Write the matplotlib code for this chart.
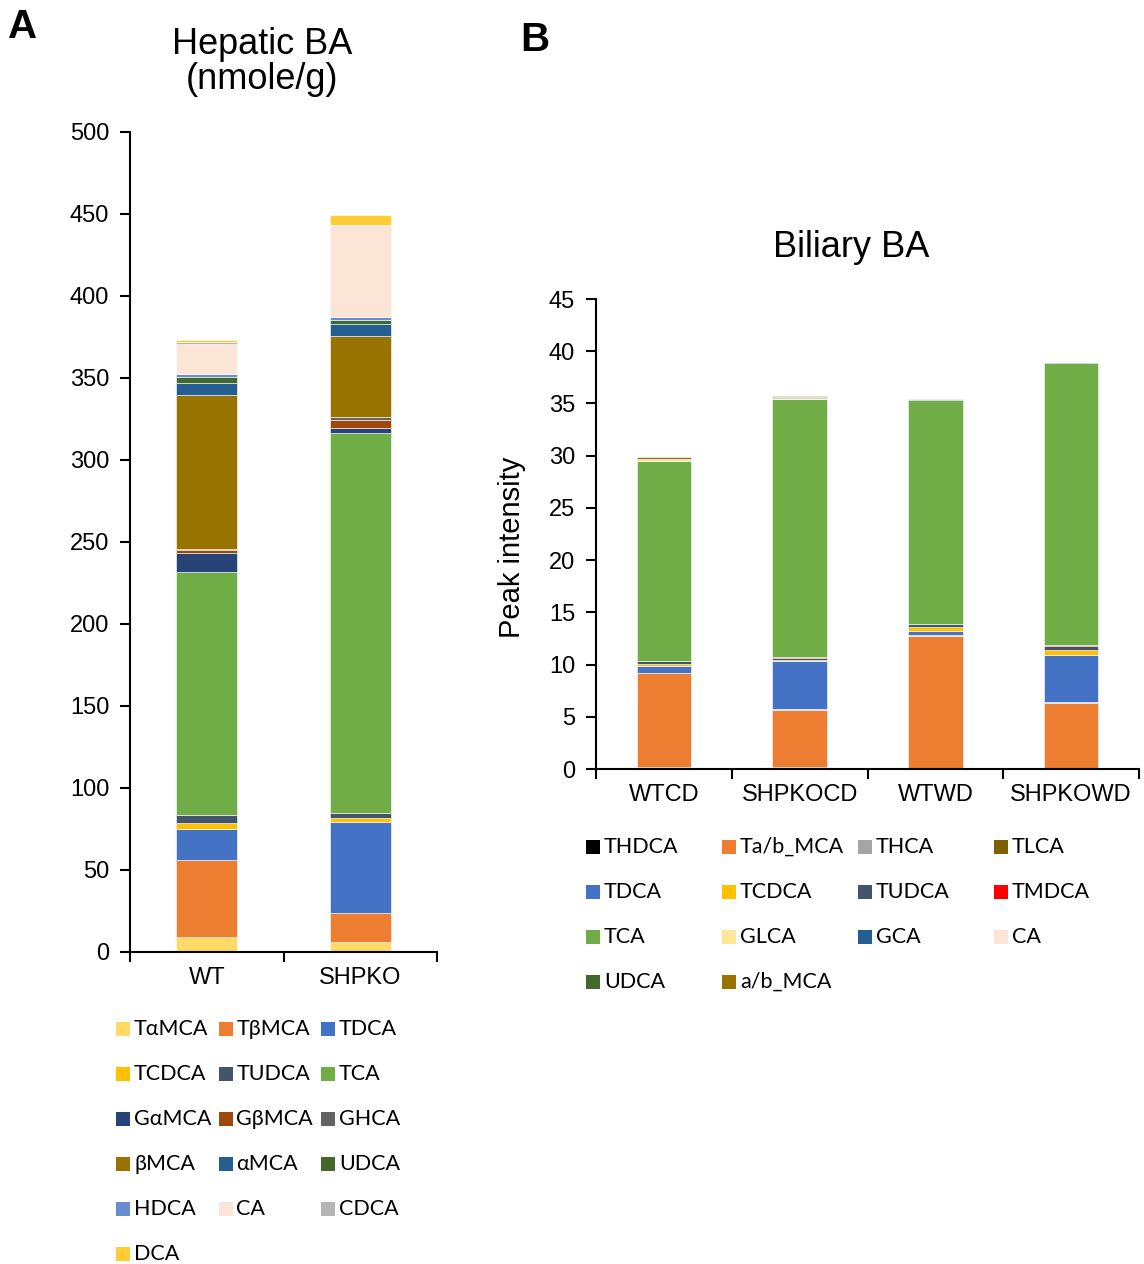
import matplotlib
matplotlib.use("Agg")
import matplotlib.pyplot as plt
from matplotlib.patches import Rectangle
import numpy as np

plt.rcParams['font.family'] = ['Liberation Sans', 'DejaVu Sans']

# ---------------- Hepatic bile acids (nmole/g) ----------------
hep_groups = ["WT", "SHPKO"]
hep_species = ["TαMCA", "TβMCA", "TDCA", "TCDCA", "TUDCA", "TCA",
               "GαMCA", "GβMCA", "GHCA", "βMCA", "αMCA", "UDCA",
               "HDCA", "CA", "CDCA", "DCA"]
hep_colors = ["#FFD966", "#ED7D31", "#4472C4", "#FFC000", "#44546A", "#70AD47",
              "#264478", "#9E480E", "#636363", "#997300", "#255E91", "#43682B",
              "#698ED0", "#FBE5D6", "#B4B4B4", "#FFCD33"]
hep_WT    = [9.1, 47.2, 18.9, 3.3, 5.2, 148.2, 11.2, 2.0, 0.5, 94.0, 7.5, 3.3, 1.8, 18.5, 1.0, 1.7]
hep_SHPKO = [5.9, 17.7, 55.9, 2.2, 3.2, 231.4, 3.4, 4.7, 1.6, 49.4, 7.3, 2.8, 1.9, 55.5, 0.5, 6.0]
hep_ticks = list(range(0, 501, 50))

# ---------------- Biliary bile acids (peak intensity) ----------------
bil_groups = ["WTCD", "SHPKOCD", "WTWD", "SHPKOWD"]
bil_species = ["THDCA", "Ta/b_MCA", "THCA", "TLCA", "TDCA", "TCDCA", "TUDCA",
               "TMDCA", "TCA", "GLCA", "GCA", "CA", "UDCA", "a/b_MCA"]
bil_colors = ["#000000", "#ED7D31", "#A5A5A5", "#7F6000", "#4472C4", "#FFC000", "#44546A",
              "#FF0000", "#70AD47", "#FFE699", "#255E91", "#FBE5D6", "#43682B", "#997300"]
bil_WTCD    = [0.15, 9.0, 0.02, 0.02, 0.70, 0.20, 0.22, 0.05, 19.10, 0.20, 0.02, 0.0, 0.02, 0.15]
bil_SHPKOCD = [0.15, 5.5, 0.10, 0.02, 4.60, 0.08, 0.20, 0.10, 24.70, 0.10, 0.02, 0.0, 0.02, 0.15]
bil_WTWD    = [0.02, 12.75, 0.02, 0.05, 0.35, 0.41, 0.30, 0.02, 21.40, 0.02, 0.02, 0.0, 0.02, 0.07]
bil_SHPKOWD = [0.10, 6.25, 0.02, 0.02, 4.57, 0.48, 0.29, 0.16, 27.00, 0.02, 0.02, 0.0, 0.02, 0.03]
bil_ticks = list(range(0, 46, 5))

W, H = 1144, 1264
fig = plt.figure(figsize=(W / 100, H / 100), dpi=100)


def px_axes(left, top, right, bottom):
    return fig.add_axes([left / W, 1 - bottom / H, (right - left) / W, (bottom - top) / H])


def stacked(ax, groups, species, colors, table, width):
    x = np.arange(len(groups))
    base = np.zeros(len(groups))
    data = np.array(table).T  # species x groups
    for name, col, vals in zip(species, colors, data):
        ax.bar(x, vals, width, bottom=base, color=col, edgecolor="white",
               linewidth=0.4, label=name, zorder=2)
        base += vals
    ax.set_xlim(-0.5, len(groups) - 0.5)
    # category labels centred, tick marks on the category boundaries
    ax.set_xticks(x)
    ax.set_xticklabels(groups)
    ax.tick_params(axis="x", which="major", length=0, pad=11)
    ax.set_xticks(np.arange(len(groups) + 1) - 0.5, minor=True)
    ax.tick_params(axis="x", which="minor", length=7, width=1.5, direction="out")
    ax.tick_params(axis="y", length=7, width=1.5, direction="out", pad=8)
    for s in ("top", "right"):
        ax.spines[s].set_visible(False)
    for s in ("left", "bottom"):
        ax.spines[s].set_linewidth(1.5)
        ax.spines[s].set_color("black")


def legend_grid(species, colors, x0, dx, y0, dy, ncol, size=15.5):
    for i, (name, col) in enumerate(zip(species, colors)):
        r, c = divmod(i, ncol)
        cx = x0 + c * dx
        cy = y0 + r * dy
        fig.add_artist(Rectangle(((cx - 7) / W, 1 - (cy + 7) / H), 14 / W, 14 / H,
                                 transform=fig.transFigure, facecolor=col,
                                 edgecolor="none"))
        fig.text((cx + 11) / W, 1 - cy / H, name, ha="left", va="center",
                 fontsize=size, family=["Lato", "DejaVu Sans"])


# Panel A
axA = px_axes(130, 132, 437, 952)
stacked(axA, hep_groups, hep_species, hep_colors,
        [hep_WT, hep_SHPKO], 0.4)
axA.set_ylim(0, 500)
axA.set_yticks(hep_ticks)
axA.tick_params(labelsize=17)
legend_grid(hep_species, hep_colors, 123, 102.5, 1029, 45, 3)

# Panel B
bL, bR, bT, bB = 596, 1139, 299, 769
axB = px_axes(bL, bT, bR, bB)
stacked(axB, bil_groups, bil_species, bil_colors,
        [bil_WTCD, bil_SHPKOCD, bil_WTWD, bil_SHPKOWD], 0.4)
axB.set_ylim(0, 45)
axB.set_yticks(bil_ticks)
axB.tick_params(labelsize=17)
axB.set_ylabel("Peak intensity", fontsize=21)
axB.yaxis.set_label_coords((526 - bL) / (bR - bL), (bB - 547) / (bB - bT))
legend_grid(bil_species, bil_colors, 593, 136, 847, 45, 4)

# titles and panel letters
fig.text(262 / W, 1 - 62 / H, "Hepatic BA\n(nmole/g)", ha="center", va="center",
         fontsize=26, linespacing=1.0)
fig.text(851 / W, 1 - 248 / H, "Biliary BA", ha="center", va="center", fontsize=26)
fig.text(23 / W, 1 - 27 / H, "A", ha="center", va="center", fontsize=29, fontweight="bold")
fig.text(535 / W, 1 - 40 / H, "B", ha="center", va="center", fontsize=29, fontweight="bold")

fig.savefig("out.png", dpi=100, facecolor="white")
